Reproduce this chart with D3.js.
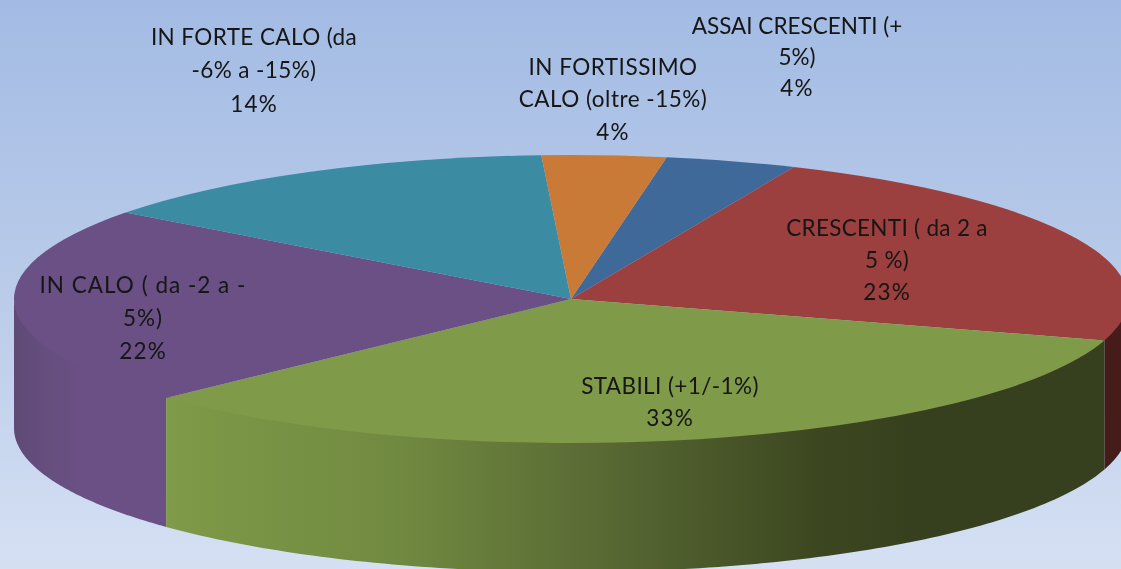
<!DOCTYPE html>
<html><head><meta charset="utf-8">
<script src="https://cdn.jsdelivr.net/npm/d3@7/dist/d3.min.js"></script>
<style>html,body{margin:0;padding:0;overflow:hidden;background:#d4dff2}svg{display:block}</style>
</head><body><script>
const categories = ["ASSAI CRESCENTI (+ 5%)","CRESCENTI ( da 2 a 5 %)","STABILI (+1/-1%)","IN CALO ( da -2 a - 5%)","IN FORTE CALO (da -6% a -15%)","IN FORTISSIMO CALO (oltre -15%)"];
const labelLines = [["ASSAI CRESCENTI (+","5%)"],["CRESCENTI ( da 2 a","5 %)"],["STABILI (+1/-1%)"],["IN CALO ( da -2 a -","5%)"],["IN FORTE CALO (da","-6% a -15%)"],["IN FORTISSIMO","CALO (oltre -15%)"]];
const values = [3.8,23.1,33.3,22.3,13.9,3.6];
const percentLabels = ["4%","23%","33%","22%","14%","4%"];
const topColors = ["#3f6998","#9c403f","#7f9a48","#6a5084","#3b8ba2","#c97a37"];

const W=1121,H=569,cx=571,cy=299,rx=557,ry=144,depth=129;
const labelX=[797,887,670,143,254,613], labelY=[26,228,386,285,37,67], lineGap=[31,32,32,33,33.5,32.5];
const tracking=[0,.3,.4,1,.4,.5];

const svg=d3.select("body").append("svg").attr("width",W).attr("height",H);
const defs=svg.append("defs");
const bg=defs.append("linearGradient").attr("id","bg").attr("x1",0).attr("y1",0).attr("x2",0).attr("y2",1);
[[0,"#a3bbe4"],[.5,"#b9cbe9"],[1,"#d5e0f3"]].forEach(s=>bg.append("stop").attr("offset",s[0]).attr("stop-color",s[1]));
const gg=defs.append("linearGradient").attr("id","wallGreen").attr("gradientUnits","userSpaceOnUse").attr("x1",165).attr("x2",930).attr("y1",0).attr("y2",0);
[[0,"#7f9a48"],[.3,"#718a41"],[.6,"#566632"],[.85,"#3c4720"],[1,"#363f1e"]].forEach(s=>gg.append("stop").attr("offset",s[0]).attr("stop-color",s[1]));
const gp=defs.append("linearGradient").attr("id","wallPurple").attr("gradientUnits","userSpaceOnUse").attr("x1",14).attr("x2",80).attr("y1",0).attr("y2",0);
[[0,"#5f4a75"],[.5,"#664e7f"],[1,"#6a5084"]].forEach(s=>gp.append("stop").attr("offset",s[0]).attr("stop-color",s[1]));
const blur=defs.append("filter").attr("id","soft").attr("x","-5%").attr("y","-5%").attr("width","110%").attr("height","110%");
blur.append("feGaussianBlur").attr("stdDeviation",0.4);

svg.append("rect").attr("width",W).attr("height",H).attr("fill","url(#bg)");

const pie=d3.pie().sort(null).startAngle(9.9*Math.PI/180).endAngle(369.9*Math.PI/180);
const arcs=pie(values);
const ex=a=>cx+rx*Math.sin(a), ey=a=>cy-ry*Math.cos(a);
const line=d3.line();
const fills=["none","#451c1a","url(#wallGreen)","url(#wallPurple)","none","none"];

// side walls: only the parts on the front half of the ellipse
[1,3,2].forEach(i=>{
  const a0=Math.max(arcs[i].startAngle,Math.PI/2), a1=Math.min(arcs[i].endAngle,3*Math.PI/2);
  if(a1<=a0) return;
  const t=d3.range(0,121).map(k=>a0+(a1-a0)*k/120);
  const upper=t.map(a=>[ex(a),ey(a)-2]);
  const lower=t.slice().reverse().map(a=>[ex(a),ey(a)+depth]);
  svg.append("path").attr("d",line(upper.concat(lower))+"Z").attr("fill",fills[i]);
});

// top face
const arc=d3.arc().innerRadius(0).outerRadius(rx);
svg.append("g").attr("transform",`translate(${cx},${cy}) scale(1,${ry/rx})`)
  .selectAll("path").data(arcs).join("path").attr("d",arc).attr("fill",(d,i)=>topColors[i]);

// labels
const g=svg.append("g").attr("font-family","Lato, 'Open Sans', sans-serif").attr("font-size",22.5)
  .attr("fill","#151515").attr("text-anchor","middle").attr("filter","url(#soft)");
categories.forEach((c,i)=>{
  labelLines[i].forEach((s,j)=>{
    g.append("text").attr("x",labelX[i]).attr("y",labelY[i]+j*lineGap[i]).attr("dy","0.35em")
      .attr("letter-spacing",tracking[i]).text(s);
  });
  g.append("text").attr("x",labelX[i]).attr("y",labelY[i]+labelLines[i].length*lineGap[i]).attr("dy","0.35em")
    .attr("letter-spacing",1.2).text(percentLabels[i]);
});
</script></body></html>
